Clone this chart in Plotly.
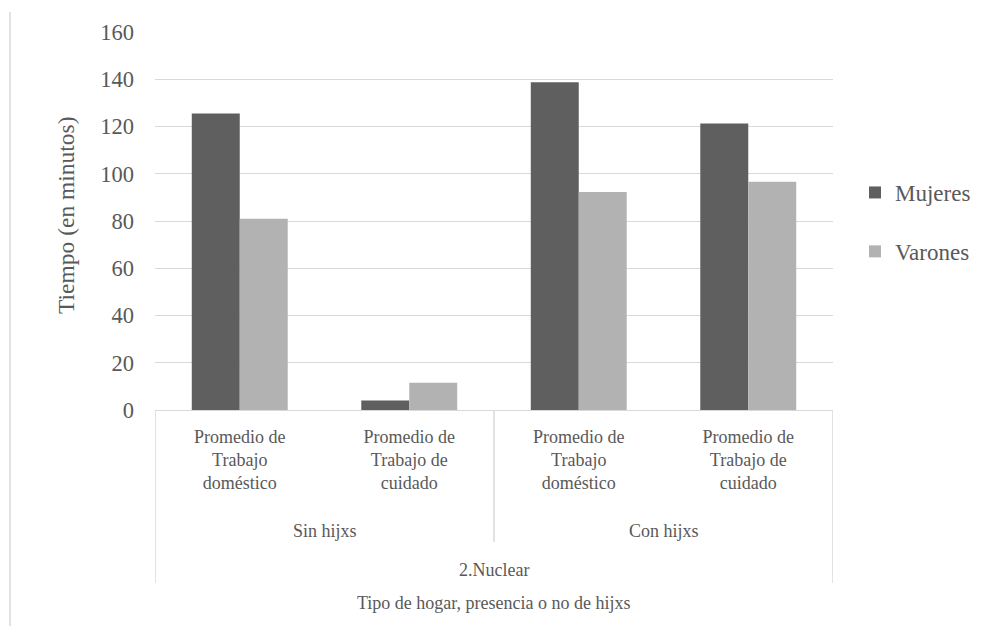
import plotly.graph_objects as go

categories = ["Promedio de<br>Trabajo<br>doméstico", "Promedio de<br>Trabajo de<br>cuidado",
              "Promedio de<br>Trabajo<br>doméstico", "Promedio de<br>Trabajo de<br>cuidado"]
groups = ["Sin hijxs", "Con hijxs"]
outer = "2.Nuclear"
mujeres = [125.5, 4, 138.7, 121.3]
varones = [81, 11.5, 92.3, 96.6]
yticks = [0, 20, 40, 60, 80, 100, 120, 140, 160]

W, H = 1001, 626
OFF = 8  # page body margin
L, T = 155 - OFF, 32 - OFF
R = W - (833 - OFF)
B = H - (410 - OFF)
PW, PH = W - L - R, H - T - B

def py(p):
    return (H - B - (p - OFF)) / PH

def px(p):
    return ((p - OFF) - L) / PW

FONT = "Liberation Serif"
TXT = "#595959"
LINE = "#d9d9d9"

xs = list(range(len(categories)))
fig = go.Figure()
fig.add_trace(go.Bar(x=xs, y=mujeres, name="Mujeres", marker_color="#5f5f5f",
                     marker_line_width=0, legendgroup="m"))
fig.add_trace(go.Bar(x=xs, y=varones, name="Varones", marker_color="#b2b2b2",
                     marker_line_width=0, legendgroup="v"))

fig.update_layout(
    width=W, height=H,
    margin=dict(l=L, r=R, t=T, b=B, autoexpand=False),
    paper_bgcolor="white", plot_bgcolor="white",
    barmode="group", bargap=0.434, bargroupgap=0,
    legend=dict(x=px(855), y=py(171), xanchor="left", yanchor="top",
                font=dict(family=FONT, size=23, color=TXT), tracegroupgap=26,
                bgcolor="rgba(0,0,0,0)"),
    xaxis=dict(range=[-0.5, 3.5], tickvals=xs, ticktext=categories,
               showgrid=False, zeroline=False, showline=True, linecolor=LINE,
               linewidth=1, ticks="", tickfont=dict(family=FONT, size=18, color=TXT),
               ticklabelstandoff=10),
    yaxis=dict(range=[0, 160], tickvals=yticks, showgrid=True, gridcolor=LINE,
               gridwidth=1, zeroline=False, showline=False, ticks="",
               tickfont=dict(family=FONT, size=22.5, color=TXT), ticklabelstandoff=20),
)

shapes = []
for xv, yb in [(-0.5, 583), (1.5, 542), (3.5, 583)]:
    shapes.append(dict(type="line", xref="x", yref="paper", x0=xv, x1=xv,
                       y0=0, y1=py(yb), line=dict(color=LINE, width=1.5)))
shapes.append(dict(type="line", xref="paper", yref="paper", x0=px(10), x1=px(10),
                   y0=py(12), y1=py(640), line=dict(color=LINE, width=1.5)))
fig.update_layout(shapes=shapes)

anns = []
for i, g in enumerate(groups):
    anns.append(dict(text=g, x=2 * i + 0.5, xref="x", y=py(531), yref="paper",
                     showarrow=False, yanchor="middle",
                     font=dict(family=FONT, size=18, color=TXT)))
anns.append(dict(text=outer, x=1.5, xref="x", y=py(570), yref="paper",
                 showarrow=False, yanchor="middle",
                 font=dict(family=FONT, size=18, color=TXT)))
anns.append(dict(text="Tipo de hogar, presencia o no de hijxs", x=1.5, xref="x",
                 y=py(603), yref="paper", showarrow=False, yanchor="middle",
                 font=dict(family=FONT, size=18, color=TXT)))
anns.append(dict(text="Tiempo (en minutos)", x=px(66), y=py(215), xref="paper",
                 yref="paper", showarrow=False, textangle=-90,
                 xanchor="center", yanchor="middle",
                 font=dict(family=FONT, size=23.5, color=TXT)))
fig.update_layout(annotations=anns)

fig.write_html("out.html")
